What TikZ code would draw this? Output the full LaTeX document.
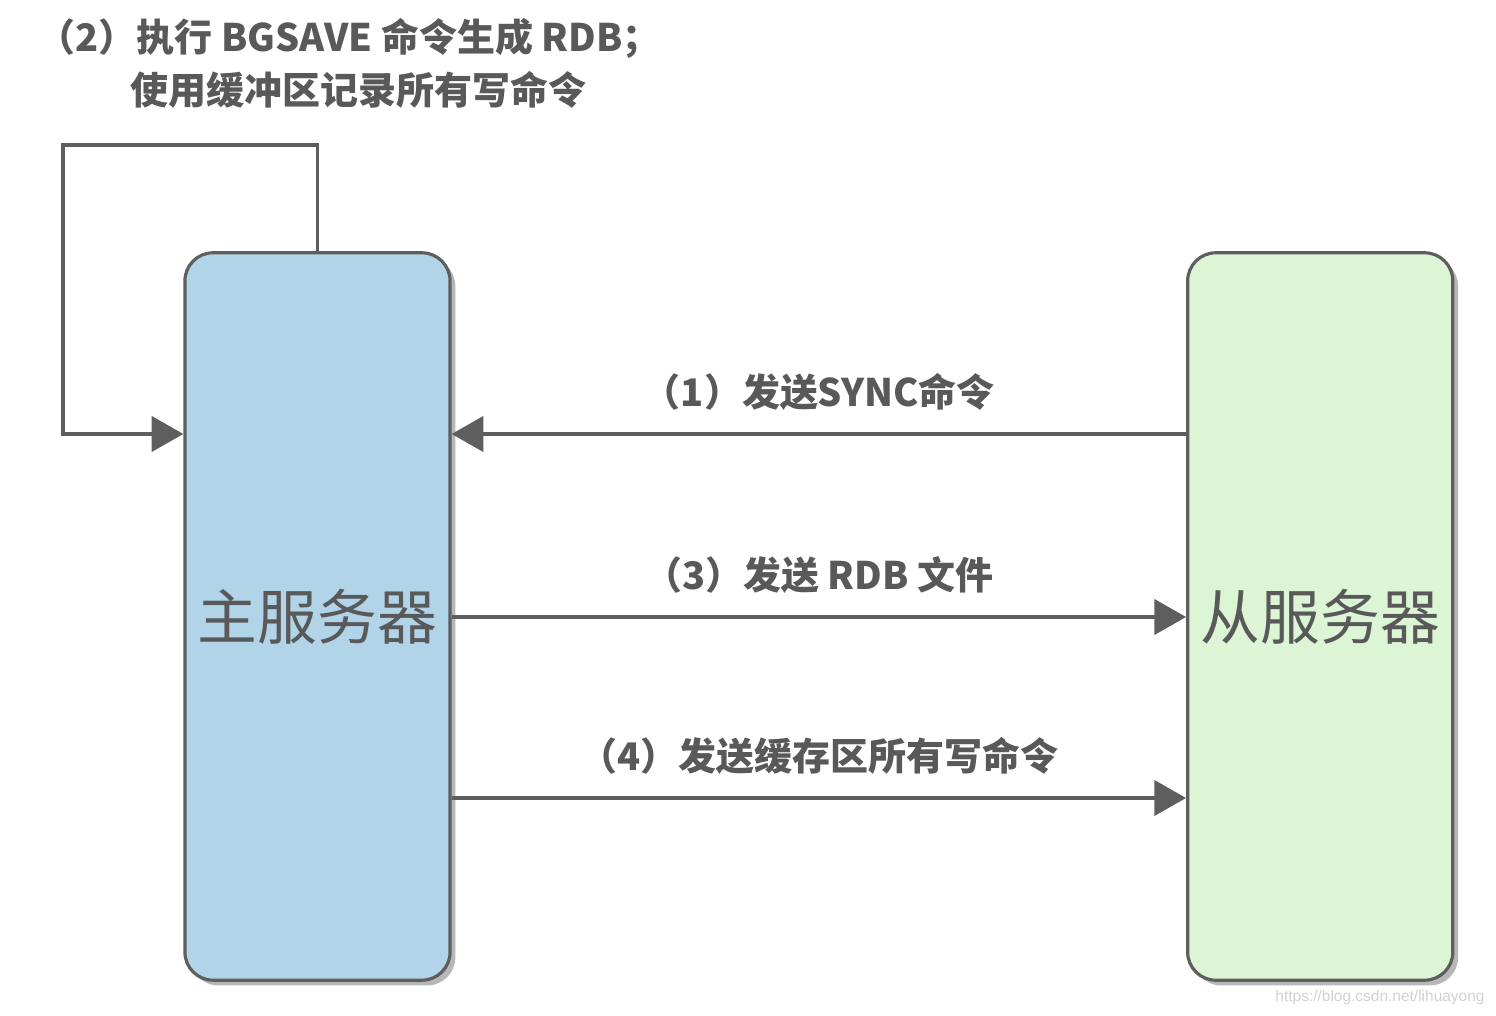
\documentclass[tikz,border=0pt]{standalone}
\usepackage{fontspec}
\setmainfont{Noto Sans CJK SC}
\newfontfamily\markfont{Liberation Sans}
\definecolor{mylines}{HTML}{5E5E5E}
\definecolor{mytext}{HTML}{595959}
\definecolor{myblue}{HTML}{B2D4E8}
\definecolor{mygreen}{HTML}{DBF5D5}
\usetikzlibrary{positioning,arrows.meta,shadows}

\begin{document}
\begin{tikzpicture}[x=0.01cm,y=-0.01cm,
    every node/.style={text=mytext},
    server/.style={draw=mylines,line width=0.9pt,rounded corners=8pt,
      minimum width=2.65cm,minimum height=7.27cm,
      font=\fontsize{17}{20}\selectfont,
      drop shadow={shadow xshift=1.5pt,shadow yshift=-1.5pt,opacity=0.4,fill=black!70}},
    msnode/.style={fill=myblue},
    slnode/.style={fill=mygreen},
    lbl/.style={font=\bfseries\fontsize{10.8}{13}\selectfont},
    flow/.style={draw=mylines,line width=0.9pt,-{Triangle[length=9pt,width=10pt]}},
    node distance=7.34cm
    ]
    \useasboundingbox (0,0) rectangle (1496,1016);

    \node (master) [server,msnode] at (317.5,616.5) {主服务器};
    \node (slave) [server,slnode,right=of master] {从服务器};

    % rows of the arrows
    \coordinate (r1) at (0,434);
    \coordinate (r3) at (0,617);
    \coordinate (r4) at (0,798);
    \coordinate (loopL) at (63,145);

    \node (title1) [lbl,inner sep=0pt,anchor=west] at (37,38) {（2）执行 BGSAVE 命令生成 RDB；};
    \node (title2) [lbl,inner sep=0pt,anchor=west] at (130,90) {使用缓冲区记录所有写命令};

    % the edges
    \draw[flow] (master.north) |- (loopL) |- (master.west |- r1);
    \draw[flow] (slave.west |- r1) -- node[lbl,above=3pt] (l1) {（1）发送SYNC命令} (master.east |- r1);
    \draw[flow] (master.east |- r3) -- node[lbl,above=3pt] (l3) {（3）发送 RDB 文件} (slave.west |- r3);
    \draw[flow] (master.east |- r4) -- node[lbl,above=3pt] (l4) {（4）发送缓存区所有写命令} (slave.west |- r4);

    \node (mark) [text=black!18,font=\markfont\fontsize{4.4}{5}\selectfont] at (1380,998) {https://blog.csdn.net/lihuayong};
\end{tikzpicture}
\end{document}
